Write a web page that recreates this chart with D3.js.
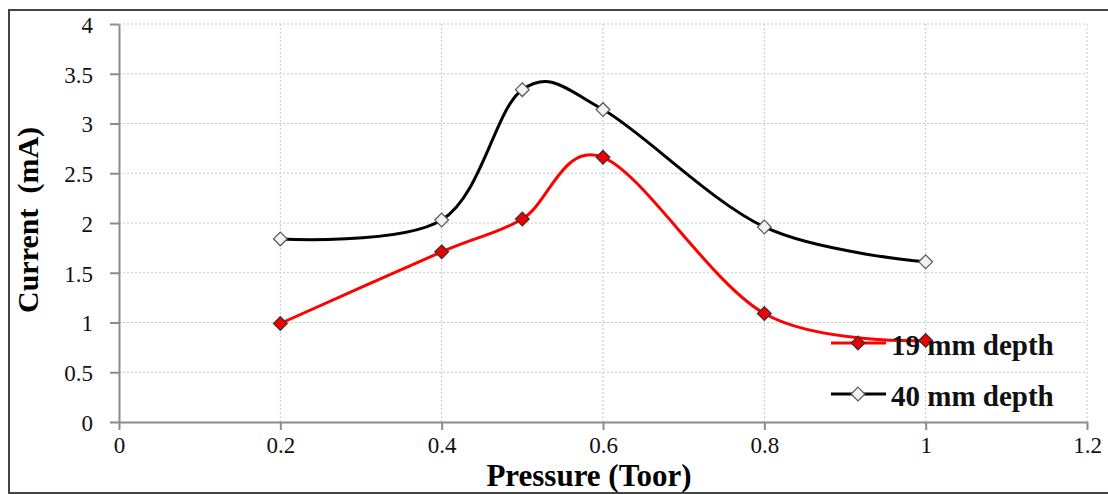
<!DOCTYPE html>
<html>
<head>
<meta charset="utf-8">
<script src="https://cdn.jsdelivr.net/npm/d3@7"></script>
<style>
  body { margin: 0; background: #fff; }
  svg { display: block; font-family: "Liberation Serif", "Times New Roman", serif; }
  .grid line { stroke: #c8c8c8; stroke-dasharray: 2,2; }
  .axis path, .axis line { stroke: #8c8c8c; stroke-width: 2; }
</style>
</head>
<body>
<svg width="1108" height="494"></svg>
<script>
var pressure = [0.2, 0.4, 0.5, 0.6, 0.8, 1.0];
var depth19 = [0.99, 1.71, 2.04, 2.66, 1.09, 0.82];
var depth40 = [1.84, 2.03, 3.34, 3.14, 1.96, 1.61];
var xTicks = [0, 0.2, 0.4, 0.6, 0.8, 1, 1.2];
var yTicks = [0, 0.5, 1, 1.5, 2, 2.5, 3, 3.5, 4];

var svg = d3.select("svg");
var margin = { left: 119, right: 21, top: 24, bottom: 72 };
var width = 1108, height = 494;

var x = d3.scaleLinear().domain([0, 1.2]).range([margin.left, width - margin.right]);
var y = d3.scaleLinear().domain([0, 4]).range([height - margin.bottom, margin.top]);

// outer frame
svg.append("rect")
  .attr("x", 9).attr("y", 10)
  .attr("width", 1110).attr("height", 483)
  .attr("fill", "none").attr("stroke", "#444").attr("stroke-width", 2);

// grid
var grid = svg.append("g").attr("class", "grid");
grid.selectAll(".h").data(yTicks.slice(1)).enter().append("line")
  .attr("x1", x(0)).attr("x2", x(1.2))
  .attr("y1", function (d) { return y(d); }).attr("y2", function (d) { return y(d); });
grid.selectAll(".v").data(xTicks.slice(1)).enter().append("line")
  .attr("y1", y(0)).attr("y2", y(4))
  .attr("x1", function (d) { return x(d); }).attr("x2", function (d) { return x(d); });

function styleAxis(g) {
  g.attr("font-family", "Liberation Serif, Times New Roman, serif").attr("font-size", 23);
  g.selectAll("text").attr("fill", "#111")
    .style("font-family", "'Liberation Serif', 'Times New Roman', serif");
}

// axes
svg.append("g").attr("class", "axis")
  .attr("transform", "translate(0," + y(0) + ")")
  .call(d3.axisBottom(x).tickValues(xTicks).tickSize(8).tickSizeOuter(0)
    .tickFormat(function (d) { return String(d); }))
  .call(styleAxis)
  .call(function (g) { g.selectAll("text").attr("y", 11).attr("dy", "0.85em"); });
svg.append("g").attr("class", "axis")
  .attr("transform", "translate(" + x(0) + ",0)")
  .call(d3.axisLeft(y).tickValues(yTicks).tickSize(9).tickSizeOuter(0)
    .tickFormat(function (d) { return String(d); }))
  .call(styleAxis)
  .call(function (g) { g.selectAll("text").attr("x", -26).attr("dy", "0.36em"); });

// axis titles
svg.append("text")
  .attr("x", 589).attr("y", 486)
  .attr("text-anchor", "middle")
  .attr("font-size", 31).attr("font-weight", "bold")
  .text("Pressure (Toor)");
svg.append("text")
  .attr("transform", "translate(38,220) rotate(-90)")
  .attr("text-anchor", "middle")
  .attr("font-size", 30).attr("font-weight", "bold")
  .attr("xml:space", "preserve")
  .text("Current  (mA)");

var series = [
  { name: "19 mm depth", values: depth19, color: "#ff0000", fill: "#ee0000", stroke: "#333" },
  { name: "40 mm depth", values: depth40, color: "#000000", fill: "#f2f2f2", stroke: "#555" }
];

var line = d3.line()
  .x(function (d) { return x(d[0]); })
  .y(function (d) { return y(d[1]); })
  .curve(d3.curveCardinal.tension(0));

var diamond = d3.symbol().type(d3.symbolDiamond2).size(120);

series.forEach(function (s) {
  var pts = pressure.map(function (p, i) { return [p, s.values[i]]; });
  svg.append("path")
    .datum(pts)
    .attr("d", line)
    .attr("fill", "none")
    .attr("stroke", s.color)
    .attr("stroke-width", 3);
  svg.append("g").selectAll("path")
    .data(pts).enter().append("path")
    .attr("d", diamond)
    .attr("transform", function (d) { return "translate(" + x(d[0]) + "," + y(d[1]) + ")"; })
    .attr("fill", s.fill)
    .attr("stroke", s.stroke)
    .attr("stroke-width", 1.2);
});

// legend
var legend = svg.append("g");
series.forEach(function (s, i) {
  var ly = 343 + i * 51;
  legend.append("line")
    .attr("x1", 831).attr("x2", 886).attr("y1", ly).attr("y2", ly)
    .attr("stroke", s.color).attr("stroke-width", 3);
  legend.append("path")
    .attr("d", diamond)
    .attr("transform", "translate(858," + ly + ")")
    .attr("fill", s.fill).attr("stroke", s.stroke).attr("stroke-width", 1.2);
  legend.append("text")
    .attr("x", 891).attr("y", ly + 12)
    .attr("font-size", 29).attr("font-weight", "bold")
    .attr("fill", "#111")
    .text(s.name);
});
</script>
</body>
</html>
